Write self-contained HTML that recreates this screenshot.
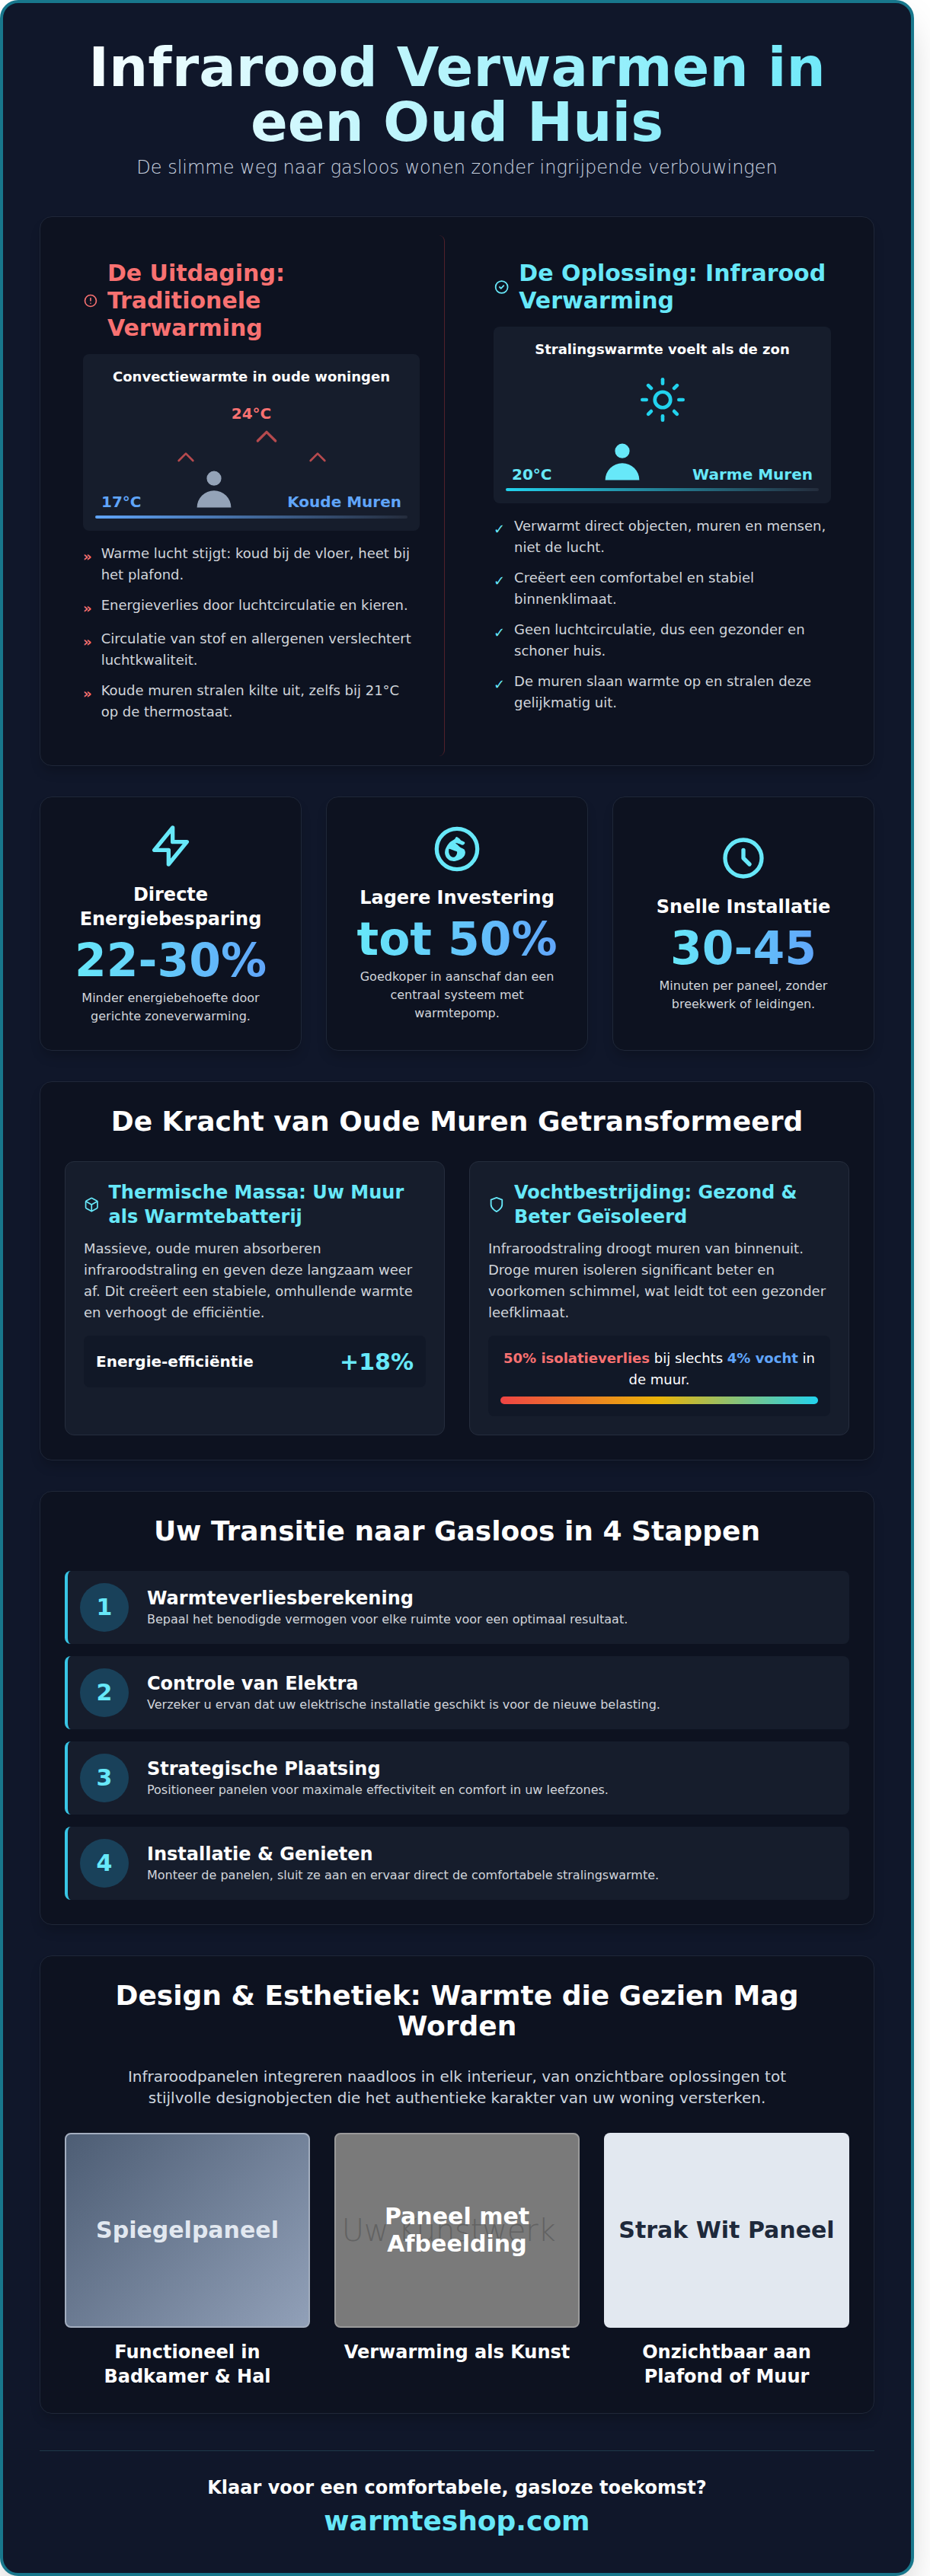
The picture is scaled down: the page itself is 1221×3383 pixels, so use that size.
<!DOCTYPE html>
<html lang="nl">
<head>
<meta charset="utf-8">
<title>Infrarood Verwarmen in een Oud Huis</title>
<style>
*{box-sizing:border-box;margin:0;padding:0}
html,body{background:#fff}
body{font-family:"DejaVu Sans","Liberation Sans",sans-serif;color:#fff;width:1221px}
.wrap{width:1200px;height:3383px;background:#10172a;border:4px solid #18778c;border-radius:24px;padding:48px;box-shadow:0 25px 50px -12px rgba(0,0,0,.25);overflow:hidden}
.grad{background:linear-gradient(90deg,#fff,#67e8f9);-webkit-background-clip:text;background-clip:text;color:transparent}
.grad2{background:linear-gradient(90deg,#67e8f9,#60a5fa);-webkit-background-clip:text;background-clip:text;color:transparent}
header{text-align:center;margin-bottom:48px}
h1{font-size:72px;line-height:72px;font-weight:700;letter-spacing:0}
.sub{font-size:24px;line-height:32px;font-weight:200;color:#cbd5e1;margin-top:8px}
.card{background:#0d1220;border:1px solid #1f2738;border-radius:16px;box-shadow:0 10px 15px -3px rgba(0,0,0,.2)}
section{margin-bottom:40px}
/* section 1 */
.s1{padding:24px;display:grid;grid-template-columns:1fr 1fr;gap:32px;height:722px}
.col{padding:32px;border-radius:8px}
.col.l{border-right:1px solid rgba(239,68,68,.3)}
.hd{display:flex;align-items:center;margin-bottom:16px}
.hd svg{flex:0 1 auto;width:32px;height:32px;margin-right:12px}
.hd h2{font-size:30px;line-height:36px;font-weight:700}
.red{color:#f87171}.cy{color:#67e8f9}.bl{color:#60a5fa}
.dia{background:#161d2c;border-radius:8px;position:relative;height:232px;margin-bottom:16px}
.dia .t{position:absolute;left:0;right:0;top:16px;font-size:18px;line-height:28px;font-weight:700;text-align:center}
.dia .row{position:absolute;left:24px;right:24px;top:144px;height:64px;display:flex;justify-content:space-between;align-items:flex-end;font-weight:700;font-size:20px;line-height:28px}
.dia .row svg{flex:none}
.dia .abs{position:absolute}
.bar{position:absolute;left:16px;right:16px;top:212px;height:4px;border-radius:2px}
ul{list-style:none}
.s1 li{display:flex;font-size:18px;line-height:28px;color:#d1d5db;margin-bottom:12px}
.s1 li span{flex:none;margin:4px 12px 0 0;font-weight:700}
/* stats */
.stats{display:grid;grid-template-columns:repeat(3,1fr);gap:32px}
.stat{height:334px;padding:32px;display:flex;flex-direction:column;align-items:center;justify-content:center;text-align:center}
.stat h3{font-size:24px;line-height:32px;font-weight:700;margin:16px 0 8px}
.stat .num{font-size:60px;line-height:60px;font-weight:700;margin-bottom:8px}
.stat p{font-size:16px;line-height:24px;color:#d1d5db}
/* s3 */
.s3{padding:32px}
.s3 h2,.s4 h2,.s5 h2{font-size:36px;line-height:40px;font-weight:700;text-align:center}
.g2{display:grid;grid-template-columns:1fr 1fr;gap:32px;margin-top:32px}
.in{background:#161d2c;border:1px solid #252d3d;border-radius:12px;padding:24px}
.in .hd{margin-bottom:12px}
.in .hd h3{font-size:24px;line-height:32px;font-weight:700;color:#67e8f9}
.in p{font-size:18px;line-height:28px;color:#d1d5db}
.box{background:#111827;border-radius:8px;margin-top:16px}
/* s4 */
.s4{padding:32px}
.step{display:flex;align-items:center;background:#161d2c;border-left:4px solid #38c6e6;border-radius:8px;height:96px;margin-top:16px;padding-left:16px}
.step .n{width:64px;height:64px;border-radius:50%;background:#19415a;color:#67e8f9;font-size:30px;font-weight:700;display:flex;align-items:center;justify-content:center;margin-right:24px;flex:none;padding-bottom:2px}
.step h3{font-size:24px;line-height:32px;font-weight:700}
.step p{font-size:16px;line-height:24px;color:#d1d5db}
/* s5 */
.s5{padding:32px}
.s5 .lead{font-size:20px;line-height:28px;color:#ced5df;text-align:center;margin:32px auto 0;width:896px}
.g3{display:grid;grid-template-columns:repeat(3,1fr);gap:32px;margin-top:32px}
.pan{height:256px;border-radius:8px;display:flex;align-items:center;justify-content:center;text-align:center;font-size:30px;line-height:36px;font-weight:700;position:relative}
.cap{font-size:24px;line-height:32px;font-weight:700;text-align:center;margin-top:16px}
footer{border-top:1px solid #1f3a4a;text-align:center;padding-top:32px;margin-top:48px}
footer p{font-size:24px;line-height:32px;font-weight:700}
footer .u{font-size:36px;line-height:40px;font-weight:700;color:#67e8f9;margin-top:8px}
</style>
</head>
<body>
<div class="wrap">
<header>
<h1 class="grad">Infrarood Verwarmen in<br>een Oud Huis</h1>
<p class="sub">De slimme weg naar gasloos wonen zonder ingrijpende verbouwingen</p>
</header>

<section class="card s1">
<div class="col l">
<div class="hd"><svg viewBox="0 0 24 24" fill="none" stroke="#f87171" stroke-width="2" stroke-linecap="round" stroke-linejoin="round"><path d="M12 8v4m0 4h.01M21 12a9 9 0 11-18 0 9 9 0 0118 0z"/></svg><h2 class="red">De Uitdaging: Traditionele Verwarming</h2></div>
<div class="dia" id="dia1">
<div class="t">Convectiewarmte in oude woningen</div>
<div class="abs red" style="left:0;right:0;top:63.6px;text-align:center;font-weight:700;font-size:20px;line-height:28px">24°C</div>
<svg class="abs" style="left:221px;top:88.6px" width="40" height="40" viewBox="0 0 24 24" fill="none" stroke="#f45c5c" stroke-opacity=".72" stroke-width="2" stroke-linecap="round" stroke-linejoin="round"><path d="M5 15l7-7 7 7"/></svg>
<svg class="abs" style="left:119.2px;top:119.7px" width="32" height="32" viewBox="0 0 24 24" fill="none" stroke="#f45c5c" stroke-opacity=".72" stroke-width="2" stroke-linecap="round" stroke-linejoin="round"><path d="M5 15l7-7 7 7"/></svg>
<svg class="abs" style="left:291.8px;top:119.7px" width="32" height="32" viewBox="0 0 24 24" fill="none" stroke="#f45c5c" stroke-opacity=".72" stroke-width="2" stroke-linecap="round" stroke-linejoin="round"><path d="M5 15l7-7 7 7"/></svg>
<div class="row bl"><span>17°C</span><svg width="64" height="64" viewBox="0 0 20 20" fill="#94a3b8"><path fill-rule="evenodd" d="M10 9a3 3 0 100-6 3 3 0 000 6zm-7 9a7 7 0 1114 0H3z" clip-rule="evenodd"/></svg><span>Koude Muren</span></div>
<div class="bar" style="background:linear-gradient(90deg,#60a5fa,#242c3c)"></div>
</div>
<ul>
<li><span class="red">»</span>Warme lucht stijgt: koud bij de vloer, heet bij het plafond.</li>
<li><span class="red">»</span>Energieverlies door luchtcirculatie en kieren.</li>
<li><span class="red">»</span>Circulatie van stof en allergenen verslechtert luchtkwaliteit.</li>
<li><span class="red">»</span>Koude muren stralen kilte uit, zelfs bij 21°C op de thermostaat.</li>
</ul>
</div>
<div class="col r">
<div class="hd"><svg viewBox="0 0 24 24" fill="none" stroke="#67e8f9" stroke-width="2" stroke-linecap="round" stroke-linejoin="round"><path d="M9 12l2 2 4-4m6 2a9 9 0 11-18 0 9 9 0 0118 0z"/></svg><h2 class="cy">De Oplossing: Infrarood Verwarming</h2></div>
<div class="dia" id="dia2">
<div class="t">Stralingswarmte voelt als de zon</div>
<svg class="abs" style="left:189.5px;top:64px" width="64" height="64" viewBox="0 0 24 24" fill="none" stroke="#22d3ee" stroke-width="1.75" stroke-linecap="round" stroke-linejoin="round"><circle cx="12" cy="12" r="3.85"/><path d="M12 2v2"/><path d="M12 20v2"/><path d="m4.93 4.93 1.41 1.41"/><path d="m17.66 17.66 1.41 1.41"/><path d="M2 12h2"/><path d="M20 12h2"/><path d="m6.34 17.66-1.41 1.41"/><path d="m19.07 4.93-1.41 1.41"/></svg>
<div class="row cy"><span>20°C</span><svg width="64" height="64" viewBox="0 0 20 20" fill="#67e8f9"><path fill-rule="evenodd" d="M10 9a3 3 0 100-6 3 3 0 000 6zm-7 9a7 7 0 1114 0H3z" clip-rule="evenodd"/></svg><span>Warme Muren</span></div>
<div class="bar" style="background:linear-gradient(90deg,#22d3ee,#242c3c)"></div>
</div>
<ul>
<li><span class="cy">✓</span>Verwarmt direct objecten, muren en mensen, niet de lucht.</li>
<li><span class="cy">✓</span>Creëert een comfortabel en stabiel binnenklimaat.</li>
<li><span class="cy">✓</span>Geen luchtcirculatie, dus een gezonder en schoner huis.</li>
<li><span class="cy">✓</span>De muren slaan warmte op en stralen deze gelijkmatig uit.</li>
</ul>
</div>
</section>

<section class="stats">
<div class="card stat">
<svg width="64" height="64" viewBox="0 0 24 24" fill="none" stroke="#67e8f9" stroke-width="2" stroke-linecap="round" stroke-linejoin="round"><path d="M13 10V3L4 14h7v7l9-11h-7z"/></svg>
<h3>Directe Energiebesparing</h3>
<div class="num"><span class="grad2">22-30%</span></div>
<p>Minder energiebehoefte door gerichte zoneverwarming.</p>
</div>
<div class="card stat">
<svg width="64" height="64" viewBox="0 0 24 24" fill="none" stroke="#67e8f9" stroke-width="2" stroke-linecap="round" stroke-linejoin="round"><circle cx="12" cy="12" r="10"/><path fill="#67e8f9" fill-rule="evenodd" stroke="none" d="M12.00 6.05C12.23 6.09 12.87 6.56 13.11 6.76C13.35 6.96 13.61 7.45 13.91 7.66C14.22 7.88 15.28 8.29 15.53 8.47C15.77 8.65 15.89 8.94 15.87 9.12C15.84 9.29 15.49 9.73 15.32 9.84C15.16 9.95 14.80 10.05 14.52 10.00C14.24 9.95 13.51 9.55 13.11 9.44C12.70 9.33 11.37 9.03 11.29 9.12C11.22 9.20 12.21 9.86 12.50 10.12C12.79 10.38 13.33 10.99 13.61 11.19C13.89 11.39 14.47 11.60 14.72 11.74C14.97 11.88 15.46 12.07 15.63 12.30C15.80 12.54 16.06 13.25 16.07 13.61C16.08 13.98 15.92 14.85 15.73 15.22C15.53 15.59 14.95 16.28 14.52 16.57C14.09 16.87 12.83 17.41 12.30 17.58C11.77 17.76 10.79 17.99 10.29 17.99C9.78 17.98 8.71 17.77 8.27 17.54C7.83 17.32 7.03 16.60 6.76 16.17C6.48 15.74 6.11 14.62 6.05 14.12C5.99 13.61 6.14 12.60 6.29 12.10C6.45 11.60 7.00 10.53 7.30 10.08C7.60 9.63 8.30 8.83 8.67 8.51C9.05 8.19 9.99 7.72 10.29 7.52C10.58 7.33 10.93 7.10 11.05 6.96C11.17 6.82 11.13 6.53 11.25 6.41C11.37 6.30 11.77 6.01 12.00 6.05ZM8.17 11.90C8.38 11.85 9.06 12.20 9.48 12.34C9.90 12.49 10.73 12.76 11.09 12.91C11.45 13.05 11.88 13.12 12.00 13.35C12.11 13.58 12.03 14.18 11.90 14.52C11.77 14.86 11.38 15.51 11.09 15.73C10.80 15.95 10.23 16.11 9.88 16.05C9.54 15.99 8.94 15.63 8.67 15.32C8.41 15.02 8.13 14.29 8.03 13.91C7.93 13.54 7.95 12.99 7.97 12.70C7.99 12.42 7.95 11.95 8.17 11.90Z"/></svg>
<h3>Lagere Investering</h3>
<div class="num"><span class="grad2">tot 50%</span></div>
<p>Goedkoper in aanschaf dan een centraal systeem met warmtepomp.</p>
</div>
<div class="card stat">
<svg width="64" height="64" viewBox="0 0 24 24" fill="none" stroke="#67e8f9" stroke-width="2" stroke-linecap="round" stroke-linejoin="round"><path d="M12 8v4l3 3m6-3a9 9 0 11-18 0 9 9 0 0118 0z"/></svg>
<h3>Snelle Installatie</h3>
<div class="num"><span class="grad2">30-45</span></div>
<p>Minuten per paneel, zonder breekwerk of leidingen.</p>
</div>
</section>

<section class="card s3">
<h2>De Kracht van Oude Muren Getransformeerd</h2>
<div class="g2">
<div class="in">
<div class="hd"><svg viewBox="0 0 24 24" fill="none" stroke="#67e8f9" stroke-width="2" stroke-linecap="round" stroke-linejoin="round"><path d="M21 16V8a2 2 0 0 0-1-1.73l-7-4a2 2 0 0 0-2 0l-7 4A2 2 0 0 0 3 8v8a2 2 0 0 0 1 1.73l7 4a2 2 0 0 0 2 0l7-4A2 2 0 0 0 21 16z"/><polyline points="3.27 6.96 12 12.01 20.73 6.96"/><line x1="12" y1="22.08" x2="12" y2="12"/></svg><h3>Thermische Massa: Uw Muur als Warmtebatterij</h3></div>
<p>Massieve, oude muren absorberen infraroodstraling en geven deze langzaam weer af. Dit creëert een stabiele, omhullende warmte en verhoogt de efficiëntie.</p>
<div class="box" style="display:flex;justify-content:space-between;align-items:center;padding:12px 16px;height:68px"><span style="font-size:20px;font-weight:700">Energie-efficiëntie</span><span class="cy" style="font-size:30px;font-weight:700">+18%</span></div>
</div>
<div class="in">
<div class="hd"><svg viewBox="0 0 24 24" fill="none" stroke="#67e8f9" stroke-width="2" stroke-linecap="round" stroke-linejoin="round"><path d="M12 22s8-4 8-10V5l-8-3-8 3v7c0 6 8 10 8 10z"/></svg><h3>Vochtbestrijding: Gezond &amp; Beter Geïsoleerd</h3></div>
<p>Infraroodstraling droogt muren van binnenuit. Droge muren isoleren significant beter en voorkomen schimmel, wat leidt tot een gezonder leefklimaat.</p>
<div class="box" style="padding:16px;text-align:center"><div style="font-size:18px;line-height:28px"><b class="red">50% isolatieverlies</b> bij slechts <b class="bl">4% vocht</b> in de muur.</div><div style="height:10px;border-radius:5px;margin-top:8px;background:linear-gradient(90deg,#ef4444,#eab308 50%,#22d3ee)"></div></div>
</div>
</div>
</section>

<section class="card s4">
<h2>Uw Transitie naar Gasloos in 4 Stappen</h2>
<div class="step" style="margin-top:32px"><div class="n">1</div><div><h3>Warmteverliesberekening</h3><p>Bepaal het benodigde vermogen voor elke ruimte voor een optimaal resultaat.</p></div></div>
<div class="step"><div class="n">2</div><div><h3>Controle van Elektra</h3><p>Verzeker u ervan dat uw elektrische installatie geschikt is voor de nieuwe belasting.</p></div></div>
<div class="step"><div class="n">3</div><div><h3>Strategische Plaatsing</h3><p>Positioneer panelen voor maximale effectiviteit en comfort in uw leefzones.</p></div></div>
<div class="step"><div class="n">4</div><div><h3>Installatie &amp; Genieten</h3><p>Monteer de panelen, sluit ze aan en ervaar direct de comfortabele stralingswarmte.</p></div></div>
</section>

<section class="card s5">
<h2>Design &amp; Esthetiek: Warmte die Gezien Mag Worden</h2>
<p class="lead">Infraroodpanelen integreren naadloos in elk interieur, van onzichtbare oplossingen tot stijlvolle designobjecten die het authentieke karakter van uw woning versterken.</p>
<div class="g3">
<div><div class="pan" style="background:linear-gradient(135deg,#4d5d74,#91a0b8);border:2px solid #a3aebf;color:#e2e8f0">Spiegelpaneel</div><div class="cap">Functioneel in Badkamer &amp; Hal</div></div>
<div><div class="pan" style="background:#7a7a7a;border:2px solid #9a9a9a"><span style="position:absolute;left:0;right:0;top:50%;transform:translate(-11px,-50%);font-weight:200;font-size:40px;line-height:48px;letter-spacing:-.2px;color:#626262">Uw Kunstwerk</span><span style="position:relative">Paneel met<br>Afbeelding</span></div><div class="cap">Verwarming als Kunst</div></div>
<div><div class="pan" style="background:#e2e8f0;color:#1e293b">Strak Wit Paneel</div><div class="cap">Onzichtbaar aan Plafond of Muur</div></div>
</div>
</section>

<footer>
<p>Klaar voor een comfortabele, gasloze toekomst?</p>
<div class="u">warmteshop.com</div>
</footer>
</div>
</body>
</html>
